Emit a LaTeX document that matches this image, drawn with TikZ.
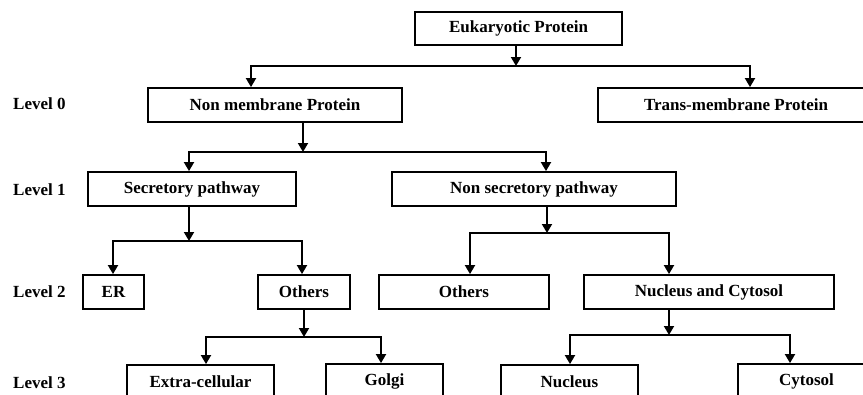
\documentclass[tikz,border=0pt]{standalone}
\usepackage{fontspec}
\setmainfont{Liberation Serif}
\usetikzlibrary{arrows.meta}
\begin{document}
\begin{tikzpicture}[x=1pt,y=-1pt,
  box/.style={draw,line width=1.8pt,inner sep=0pt,minimum height=34pt,
    font=\fontsize{17}{19}\selectfont\bfseries},
  lvl/.style={font=\fontsize{17}{19}\selectfont\bfseries,anchor=west,inner sep=0pt},
  arr/.style={line width=1.8pt,-{Triangle[width=10pt,length=9pt]}}]
\useasboundingbox (0,0) rectangle (863,394);
\clip (0,0) rectangle (863,394);

% level labels
\node[lvl] (l0) at (13,104) {Level 0};
\node[lvl] (l1) at (13,190) {Level 1};
\node[lvl] (l2) at (13,292) {Level 2};
\node[lvl] (l3) at (13,383) {Level 3};

% boxes
\node[box,minimum width=207pt,minimum height=33pt] (euk) at (518.5,28.5) {Eukaryotic Protein};
\node[box,minimum width=254pt] (nonmem) at (275,105) {Non membrane Protein};
\node[box,minimum width=276pt] (trans) at (736,105) {Trans-membrane Protein};
\node[box,minimum width=208pt] (secr) at (192,189) {Secretory pathway};
\node[box,minimum width=284pt] (nonsec) at (534,189) {Non secretory pathway};
\node[box,minimum width=61pt] (er) at (113.5,292) {ER};
\node[box,minimum width=92pt] (oth1) at (304,292) {Others};
\node[box,minimum width=170pt] (oth2) at (464,292) {Others};
\node[box,minimum width=250pt] (nuccyt) at (709,292) {Nucleus and Cytosol};
\node[box,minimum width=147pt] (extra) at (200.5,382) {Extra-cellular};
\node[box,minimum width=117pt] (golgi) at (384.5,381) {Golgi};
\node[box,minimum width=137pt] (nucleus) at (569.5,382) {Nucleus};
\node[box,minimum width=137pt] (cytosol) at (806.5,381) {Cytosol};

% junctions
\coordinate (j0) at (516,66);  \coordinate (j0l) at (251,66);  \coordinate (j0r) at (750,66);
\coordinate (j1) at (303,152); \coordinate (j1l) at (189,152); \coordinate (j1r) at (546,152);
\coordinate (j2) at (189,241); \coordinate (j2l) at (113,241); \coordinate (j2r) at (302,241);
\coordinate (j3) at (547,233); \coordinate (j3l) at (470,233); \coordinate (j3r) at (669,233);
\coordinate (j4) at (304,337); \coordinate (j4l) at (206,337); \coordinate (j4r) at (381,337);
\coordinate (j5) at (669,335); \coordinate (j5l) at (570,335); \coordinate (j5r) at (790,335);

% connectors
\draw[arr] (euk.south -| j0) -- (j0);
\draw[arr] (j0) -- (j0l) -- (nonmem.north -| j0l);
\draw[arr] (j0) -- (j0r) -- (trans.north -| j0r);

\draw[arr] (nonmem.south -| j1) -- (j1);
\draw[arr] (j1) -- (j1l) -- (secr.north -| j1l);
\draw[arr] (j1) -- (j1r) -- (nonsec.north -| j1r);

\draw[arr] (secr.south -| j2) -- (j2);
\draw[arr] (j2) -- (j2l) -- (er.north -| j2l);
\draw[arr] (j2) -- (j2r) -- (oth1.north -| j2r);

\draw[arr] (nonsec.south -| j3) -- (j3);
\draw[arr] (j3) -- (j3l) -- (oth2.north -| j3l);
\draw[arr] (j3) -- (j3r) -- (nuccyt.north -| j3r);

\draw[arr] (oth1.south -| j4) -- (j4);
\draw[arr] (j4) -- (j4l) -- (extra.north -| j4l);
\draw[arr] (j4) -- (j4r) -- (golgi.north -| j4r);

\draw[arr] (nuccyt.south -| j5) -- (j5);
\draw[arr] (j5) -- (j5l) -- (nucleus.north -| j5l);
\draw[arr] (j5) -- (j5r) -- (cytosol.north -| j5r);
\end{tikzpicture}
\end{document}
